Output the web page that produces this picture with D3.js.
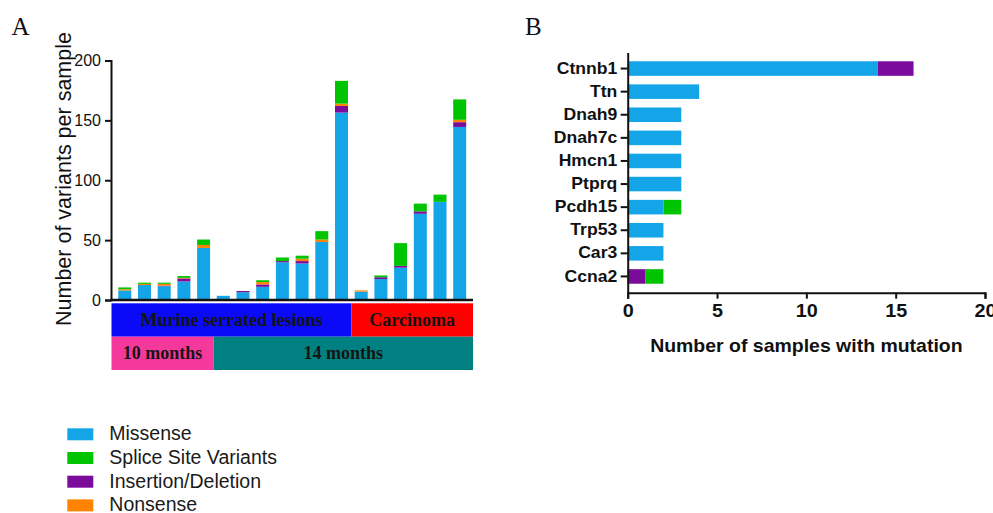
<!DOCTYPE html>
<html><head><meta charset="utf-8">
<script src="https://cdn.jsdelivr.net/npm/d3@7"></script>
<style>body{margin:0;background:#fff}svg{display:block}</style>
</head><body>
<svg id="c" width="993" height="513"></svg>
<script>
// ---------- Panel A data ----------
const samples = ["S1","S2","S3","S4","S5","S6","S7","S8","S9","S10","S11","S12","S13","S14","S15","S16","S17","S18"];
const missense = [8, 12.5, 11.5, 15.5, 43.5, 3.5, 6.5, 11, 31.5, 30.5, 48.5, 156.5, 7, 17.5, 27, 72, 82, 144.5];
const indel    = [0, 0, 0.5, 2.5, 0, 0, 1, 2, 1, 2, 0, 5.5, 0, 1.5, 1.5, 2, 0, 4];
const nonsense = [1, 1, 1.5, 0.5, 2.5, 0, 0, 2, 0, 2, 2, 2, 1, 0, 0, 0, 0, 2];
const splice   = [1.5, 1, 1, 1.5, 4.5, 0, 0, 1.5, 3, 2.5, 7, 19, 0, 1.5, 19, 6.5, 6, 17];
const yTicksA = [0, 50, 100, 150, 200];
const tissueLabels = ["Murine serrated lesions", "Carcinoma"];
const tissueCounts = [12, 6];
const ageLabels = ["10 months", "14 months"];
const ageCounts = [5, 13];

// ---------- Panel B data ----------
const genes = ["Ctnnb1","Ttn","Dnah9","Dnah7c","Hmcn1","Ptprq","Pcdh15","Trp53","Car3","Ccna2"];
const geneMissense = [14, 4, 3, 3, 3, 3, 2, 2, 2, 0];
const geneIndel    = [2, 0, 0, 0, 0, 0, 0, 0, 0, 1];
const geneNonsense = [0, 0, 0, 0, 0, 0, 0, 0, 0, 0];
const geneSplice   = [0, 0, 0, 0, 0, 0, 1, 0, 0, 1];
const xTicksB = [0, 5, 10, 15, 20];

const stackKeys = ["Missense", "Insertion/Deletion", "Nonsense", "Splice Site Variants"];
const legendKeys = ["Missense", "Splice Site Variants", "Insertion/Deletion", "Nonsense"];
const colors = {
  "Missense": "#14A5E9",
  "Splice Site Variants": "#00C400",
  "Insertion/Deletion": "#7B0C9B",
  "Nonsense": "#FF8200"
};
const bandColors = {
  "Murine serrated lesions": "#0A0AF8",
  "Carcinoma": "#FF0000",
  "10 months": "#F5399C",
  "14 months": "#008080"
};

const SANS = "'Liberation Sans', Arial, sans-serif";
const SERIF = "'Liberation Serif', 'Times New Roman', serif";
const svg = d3.select("#c");

// ================= Panel A =================
const xA = d3.scaleBand().domain(samples).range([111.5, 473]).paddingInner(0.34).paddingOuter(0.345);
const yA = d3.scaleLinear().domain([0, 200]).range([300, 60.5]);
const rowsA = samples.map((s, i) => ({
  key: s, "Missense": missense[i], "Insertion/Deletion": indel[i],
  "Nonsense": nonsense[i], "Splice Site Variants": splice[i]
}));
const stackA = d3.stack().keys(stackKeys)(rowsA);
const gA = svg.append("g");
gA.selectAll("g.layer").data(stackA).join("g")
  .attr("fill", d => colors[d.key])
  .selectAll("rect").data(d => d.filter(v => v[1] - v[0] > 0)).join("rect")
  .attr("x", d => xA(d.data.key))
  .attr("width", xA.bandwidth())
  .attr("y", d => yA(d[1]))
  .attr("height", d => yA(d[0]) - yA(d[1]));

const axA = gA.append("g").attr("transform", "translate(111,0)")
  .call(d3.axisLeft(yA).tickValues(yTicksA).tickSize(6).tickPadding(4));
axA.select(".domain").attr("stroke", "#111").attr("stroke-width", 2);
axA.selectAll(".tick line").attr("stroke", "#111").attr("stroke-width", 2);
axA.selectAll(".tick text").attr("font-family", SANS).attr("font-size", 16).attr("fill", "#111");

gA.append("line").attr("x1", 110).attr("x2", 473).attr("y1", yA(0)).attr("y2", yA(0))
  .attr("stroke", "#111").attr("stroke-width", 2.5);

gA.append("text").attr("transform", "translate(70.5,179) rotate(-90)")
  .attr("text-anchor", "middle").attr("font-family", SANS).attr("font-size", 21.5).attr("fill", "#111")
  .text("Number of variants per sample");

// group bands
function groupSpans(counts) {
  const gap = xA.step() * xA.paddingInner() / 2;
  const spans = []; let i0 = 0;
  counts.forEach((n, k) => {
    const i1 = i0 + n;
    const left = i0 === 0 ? xA.range()[0] : xA(samples[i0]) - gap;
    const right = i1 >= samples.length ? xA.range()[1] : xA(samples[i1]) - gap;
    spans.push({ left, right });
    i0 = i1;
  });
  return spans;
}
function drawBand(labels, counts, y0, h, baseline) {
  const spans = groupSpans(counts);
  labels.forEach((lab, k) => {
    const s = spans[k];
    gA.append("rect").attr("x", s.left).attr("y", y0).attr("width", s.right - s.left).attr("height", h)
      .attr("fill", bandColors[lab]);
    gA.append("text").attr("x", (s.left + s.right) / 2).attr("y", baseline)
      .attr("text-anchor", "middle").attr("font-family", SERIF).attr("font-weight", "bold")
      .attr("font-size", 18).attr("fill", "#141414").text(lab);
  });
}
drawBand(tissueLabels, tissueCounts, 303.3, 33.4, 325.7);
drawBand(ageLabels, ageCounts, 336.7, 33.3, 359);

// legend
const lg = svg.append("g");
legendKeys.forEach((k, i) => {
  const top = 428.3 + i * 23.7;
  lg.append("rect").attr("x", 67.3).attr("y", top).attr("width", 26).attr("height", 12).attr("fill", colors[k]);
  lg.append("text").attr("x", 109.3).attr("y", top + 11.8).attr("font-family", SANS).attr("font-size", 19.5)
    .attr("fill", "#1a1a1a").text(k);
});

// panel letters
svg.append("text").attr("x", 11.5).attr("y", 35).attr("font-family", SERIF).attr("font-size", 25).attr("fill", "#111").text("A");
svg.append("text").attr("x", 525).attr("y", 35).attr("font-family", SERIF).attr("font-size", 25).attr("fill", "#111").text("B");

// ================= Panel B =================
const SX = 1.1;
const xB = d3.scaleLinear().domain([0, 20]).range([627.7, 985]);
const yB = d3.scaleBand().domain(genes).range([52.5, 292.5]).paddingInner(0.37).paddingOuter(0.38);
const rowsB = genes.map((g, i) => ({
  key: g, "Missense": geneMissense[i], "Insertion/Deletion": geneIndel[i],
  "Nonsense": geneNonsense[i], "Splice Site Variants": geneSplice[i]
}));
const stackB = d3.stack().keys(stackKeys)(rowsB);
const gB = svg.append("g");
gB.selectAll("g.layer").data(stackB).join("g")
  .attr("fill", d => colors[d.key])
  .selectAll("rect").data(d => d.filter(v => v[1] - v[0] > 0)).join("rect")
  .attr("y", d => yB(d.data.key))
  .attr("height", yB.bandwidth())
  .attr("x", d => xB(d[0]))
  .attr("width", d => xB(d[1]) - xB(d[0]));

const axBy = gB.append("g").attr("transform", "translate(627.7,0)")
  .call(d3.axisLeft(yB).tickSize(7).tickSizeOuter(0).tickPadding(3));
axBy.select(".domain").attr("stroke", "#111").attr("stroke-width", 2);
axBy.selectAll(".tick line").attr("stroke", "#111").attr("stroke-width", 2);
axBy.selectAll(".tick text").attr("font-family", SANS).attr("font-weight", "bold").attr("font-size", 16)
  .attr("fill", "#111").attr("x", -9.5).attr("transform", `scale(${SX},1)`);

const axBx = gB.append("g").attr("transform", "translate(0,292.7)")
  .call(d3.axisBottom(xB).tickValues(xTicksB).tickSize(6).tickPadding(6));
axBx.select(".domain").attr("stroke", "#111").attr("stroke-width", 2);
axBx.selectAll(".tick line").attr("stroke", "#111").attr("stroke-width", 2);
axBx.selectAll(".tick text").attr("font-family", SANS).attr("font-weight", "bold").attr("font-size", 18)
  .attr("fill", "#111").attr("transform", `scale(${SX},1)`);

gB.append("text").attr("transform", `translate(${xB(10)},351.5) scale(${SX},1)`)
  .attr("text-anchor", "middle").attr("font-family", SANS).attr("font-weight", "bold").attr("font-size", 17.7)
  .attr("fill", "#111").text("Number of samples with mutation");
</script>
</body></html>
